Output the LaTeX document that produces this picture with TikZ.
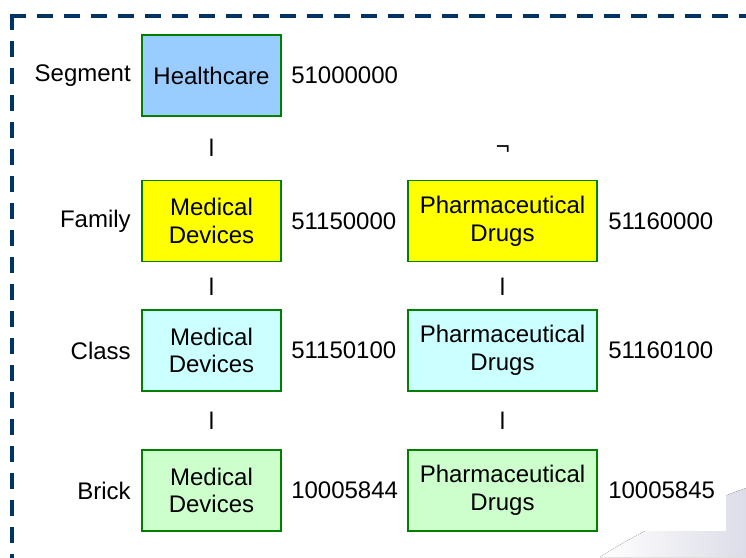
\documentclass[tikz,border=0pt]{standalone}
\usepackage{fontspec}
\setmainfont{Liberation Sans}

\definecolor{segblue}{HTML}{99CCFF}
\definecolor{famyellow}{HTML}{FFFF00}
\definecolor{clscyan}{HTML}{CCFFFF}
\definecolor{brkgreen}{HTML}{CCFFCC}
\definecolor{boxline}{HTML}{008000}
\definecolor{framecol}{HTML}{003366}
\definecolor{swooshcol}{HTML}{DCDDE8}

\begin{document}
\begin{tikzpicture}[x=0.75pt,y=-0.75pt,
	every node/.style={font=\fontsize{18}{20.75}\selectfont},
	box/.style={draw=boxline,line width=1pt,minimum height=60.75pt,align=center,inner sep=0pt},
	narrow/.style={box,minimum width=104.25pt},
	wide/.style={box,minimum width=141.75pt},
	lbl/.style={inner sep=0pt,anchor=east},
	code/.style={inner sep=0pt,anchor=west},
	link/.style={inner sep=0pt},
	dashframe/.style={draw=framecol,line width=2.6pt,line cap=rect,dash pattern=on 9.4pt off 10.85pt}]
		\useasboundingbox (0,0) rectangle (746,557);
		% background
		\fill[left color=white,right color=swooshcol] (600,557) .. controls (650,525) and (700,505) .. (746,488) -- (746,557) -- cycle;
		\fill[white] (0,0) rectangle (726,531);
		\coordinate (corner) at (12,16);
		\coordinate (bl) at (12,557);
		\coordinate (tr) at (746,16);
		\draw[dashframe] (corner) -- (tr);
		\draw[dashframe] (corner) -- (bl);
		% segment
		\node[narrow,fill=segblue] (hc) at (211.5,75.5) {Healthcare};
		\node[lbl] (seg) at (131,75.5) {Segment};
		\node[code] (hcno) at (291,75.5) {51000000};
		\node[link] (l1) at (211.5,148) {l};
		\node[link] (n1) at (503,150) {¬};
		% family
		\node[narrow,fill=famyellow] (fmd) at (211.5,221) {Medical\\Devices};
		\node[wide,fill=famyellow] (fpd) at (502.5,221) {Pharmaceutical\\Drugs};
		\node[lbl] (fam) at (131,221) {Family};
		\node[code] (fmdno) at (291,221) {51150000};
		\node[code] (fpdno) at (608,221) {51160000};
		\node[link] (l2) at (211.5,287) {l};
		\node[link] (l3) at (502.5,287) {l};
		% class
		\node[narrow,fill=clscyan] (cmd) at (211.5,350.5) {Medical\\Devices};
		\node[wide,fill=clscyan] (cpd) at (502.5,350.5) {Pharmaceutical\\Drugs};
		\node[lbl] (cls) at (131,350.5) {Class};
		\node[code] (cmdno) at (291,350.5) {51150100};
		\node[code] (cpdno) at (608,350.5) {51160100};
		\node[link] (l4) at (211.5,421) {l};
		\node[link] (l5) at (502.5,421) {l};
		% brick
		\node[narrow,fill=brkgreen] (bmd) at (211.5,490.5) {Medical\\Devices};
		\node[wide,fill=brkgreen] (bpd) at (502.5,490.5) {Pharmaceutical\\Drugs};
		\node[lbl] (brk) at (131,490.5) {Brick};
		\node[code] (bmdno) at (291,490.5) {10005844};
		\node[code] (bpdno) at (608,490.5) {10005845};
\end{tikzpicture}
\end{document}
